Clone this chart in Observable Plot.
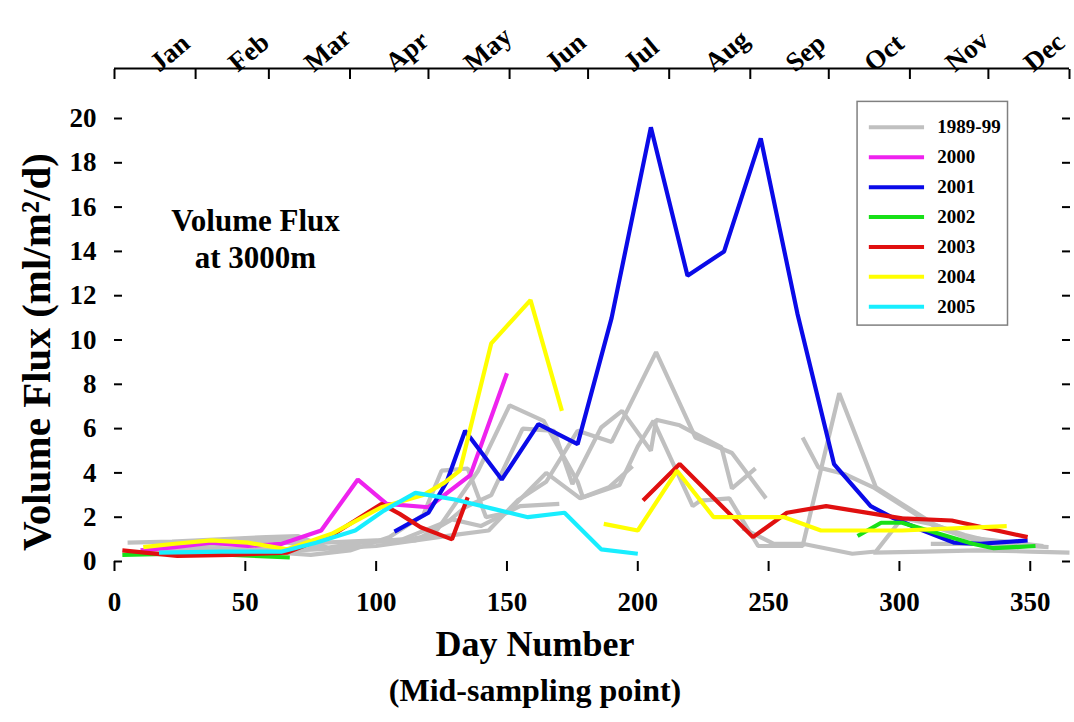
<!DOCTYPE html>
<html><head><meta charset="utf-8">
<script src="https://cdn.jsdelivr.net/npm/d3@7"></script>
<script src="https://cdn.jsdelivr.net/npm/@observablehq/plot@0.6"></script>
<style>body{margin:0;background:#fff}</style>
</head><body><div id="chart"></div>
<script>
// ---- categories / legend ----
const seriesNames = ["1989-99","2000","2001","2002","2003","2004","2005"];
const seriesColors = ["#c0c0c0","#ee22ee","#0a0ae8","#18e018","#e01010","#ffff00","#18eeff"];

// ---- month axis ----
const monthNames = ["Jan","Feb","Mar","Apr","May","Jun","Jul","Aug","Sep","Oct","Nov","Dec"];
const monthStarts = [0,31,59,90,120,151,181,212,243,273,304,334,365];
const monthMids = [15,45,74,105,135,166,196,227,258,288,319,349];

// ---- value axes ----
const xTicks = [0,50,100,150,200,250,300,350];
const yTicks = [0,2,4,6,8,10,12,14,16,18,20];

// ---- 1989-99 (grey) series: [day, flux] ----
const greyA = [[5,0.85],[22,0.9],[40,1.0],[58,1.1],[70,1.15],[85,0.45],[95,0.9],[108,0.9],[122,1.2],[139,4.1],[151,7.05],[164,6.35],[177,3.6],[179,2.9],[189,3.35],[198,4.3]];
const greyB = [[12,0.6],[35,0.75],[60,0.95],[80,0.6],[94,0.85],[110,1.0],[128,1.85],[134,2.45],[144,3.0],[156,6.0],[168,5.9],[175,3.5],[186,6.05],[194,6.8],[205,5.0],[207,6.4],[216,6.15],[232,5.15],[236,3.3],[245,4.2]];
const greyC = [[10,0.5],[40,0.6],[70,0.5],[100,0.7],[130,1.2],[143,1.4],[154,2.75],[165,3.6],[177,5.9],[190,5.4],[207,9.45],[222,5.6],[236,4.9],[249,2.85]];
const greyD = [[20,0.45],[50,0.5],[75,0.3],[90,0.5],[105,1.1],[118,2.1],[125,4.1],[135,4.2],[142,2.0],[150,2.2],[165,4.0],[178,2.85],[193,3.45],[200,5.2],[206,6.35],[221,2.5],[224,2.75],[235,2.85],[246,0.7],[263,0.7],[277,7.6],[291,3.35],[301,2.6],[313,1.7],[325,1.1],[340,0.9],[355,0.7]];
const greyE = [[263,5.6],[269,4.25],[279,3.95],[290,3.35],[304,2.3],[314,1.55],[328,1.0],[345,0.85]];
const greyF = [[240,1.5],[252,0.8],[263,0.8],[282,0.35],[291,0.45],[301,1.95],[312,1.7],[325,1.2],[340,0.75]];
const greyG = [[290,0.4],[310,0.45],[330,0.5],[350,0.45],[365,0.4]];
const greyH = [[312,0.8],[335,0.8],[357,0.65]];
const greyI = [[30,0.9],[55,1.05],[80,0.85],[100,0.95],[115,0.95],[129,1.9],[140,1.6],[155,2.5],[170,2.6]];

// ---- individual years ----
const y2000 = [[10,0.5],[23,0.65],[37,0.85],[51,0.7],[64,0.8],[79,1.4],[93,3.7],[104,2.6],[120,2.45],[136,3.9],[150,8.5]];
const y2001 = [[107,1.35],[120,2.2],[127,3.6],[134,5.9],[148,3.7],[162,6.2],[177,5.3],[190,11.0],[205,19.6],[219,12.9],[233,14.0],[247,19.1],[261,11.2],[275,4.4],[289,2.5],[297,2.0],[309,1.4],[321,0.85],[331,0.8],[349,0.95]];
const y2002a = [[3,0.3],[24,0.35],[45,0.3],[67,0.18]];
const y2002b = [[284,1.15],[293,1.75],[301,1.75],[311,1.4],[328,0.8],[336,0.6],[352,0.7]];
const y2003a = [[3,0.5],[24,0.25],[45,0.3],[66,0.4],[84,1.25],[92,1.85],[102,2.6],[109,2.15],[117,1.55],[129,1.0],[135,2.9]];
const y2003b = [[202,2.75],[216,4.4],[244,1.1],[257,2.2],[272,2.5],[301,1.95],[320,1.85],[349,1.1]];
const y2004a = [[11,0.65],[23,0.8],[37,0.95],[51,0.85],[66,0.55],[83,1.25],[102,2.45],[118,3.0],[126,3.55],[132,4.1],[144,9.85],[159,11.8],[171,6.8]];
const y2004b = [[187,1.7],[200,1.4],[215,4.1],[229,2.0],[256,2.0],[270,1.4],[301,1.4],[341,1.6]];
const y2005 = [[17,0.4],[41,0.45],[64,0.45],[77,0.85],[92,1.4],[103,2.3],[115,3.1],[130,2.8],[144,2.4],[158,2.0],[172,2.2],[186,0.55],[200,0.35]];

const segments = [
  ["1989-99","gA",greyA],["1989-99","gB",greyB],["1989-99","gC",greyC],["1989-99","gD",greyD],
  ["1989-99","gE",greyE],["1989-99","gF",greyF],["1989-99","gG",greyG],["1989-99","gH",greyH],["1989-99","gI",greyI],
  ["2000","2000",y2000],["2001","2001",y2001],["2002","2002a",y2002a],["2002","2002b",y2002b],
  ["2003","2003a",y2003a],["2003","2003b",y2003b],["2004","2004a",y2004a],["2004","2004b",y2004b],
  ["2005","2005",y2005]
];
const table = segments.flatMap(([series, id, pts]) => pts.map(([day, flux]) => ({series, id, day, flux})));

// legend layout in data units
const legendRows = seriesNames.map((name, i) => ({name, y: 19.6 - i * 1.35}));
const monthLabel = new Map(monthMids.map((d, i) => [d, monthNames[i]]));
const blank = () => "";

const chart = Plot.plot({
  width: 1074,
  height: 722,
  marginLeft: 114,
  marginRight: 5,
  marginTop: 118,
  marginBottom: 161,
  style: {fontFamily: "'Liberation Serif', 'Times New Roman', serif", fontWeight: "bold", background: "#fff", color: "#000"},
  x: {domain: [0, 365]},
  y: {domain: [0, 20]},
  color: {domain: seriesNames, range: seriesColors},
  marks: [
    Plot.line(table, {x: "day", y: "flux", z: "id", stroke: "series", strokeWidth: 4.2, strokeLinejoin: "miter", strokeLinecap: "butt"}),
    // left axis: line + labels, then inward ticks
    Plot.axisY(yTicks, {anchor: "left", tickSize: 0, tickPadding: 18, strokeWidth: 2, line: true, label: null, fontSize: 27}),
    Plot.axisY(yTicks, {anchor: "left", tickSize: 8, dx: 8, tickFormat: blank, strokeWidth: 2, label: null}),
    // right axis: line + inward ticks
    Plot.axisY(yTicks, {anchor: "right", tickSize: 0, tickFormat: blank, strokeWidth: 2, line: true, label: null}),
    Plot.axisY(yTicks, {anchor: "right", tickSize: 8, dx: -8, tickFormat: blank, strokeWidth: 2, label: null}),
    // bottom axis
    Plot.axisX(xTicks, {anchor: "bottom", tickSize: 10, tickPadding: 20, strokeWidth: 2, line: true, label: null, fontSize: 27}),
    // top month axis, lifted above the frame
    Plot.ruleY([20], {dy: -50, strokeWidth: 2}),
    Plot.axisX(monthStarts, {anchor: "top", tickSize: 10, dy: -40, tickFormat: blank, strokeWidth: 2, label: null}),
    Plot.axisX(monthMids, {anchor: "top", tickSize: 0, tickPadding: 2, tickRotate: -40, tickFormat: d => monthLabel.get(d), label: null, fontSize: 27, dy: -50}),
    // titles
    Plot.text(["Volume Flux (ml/m²/d)"], {text: d => d, frameAnchor: "left", textAnchor: "middle", rotate: -90, dx: -78, dy: 12, fontSize: 41}),
    Plot.text(["Day Number"], {text: d => d, frameAnchor: "bottom", textAnchor: "middle", dx: -57, dy: 94, fontSize: 36}),
    Plot.text(["(Mid-sampling point)"], {text: d => d, frameAnchor: "bottom", textAnchor: "middle", dx: -57, dy: 139, fontSize: 32}),
    Plot.text(["Volume Flux\nat 3000m"], {text: d => d, frameAnchor: "top-left", textAnchor: "middle", dx: 141, dy: 86, fontSize: 31, lineHeight: 1.2}),
    // legend
    Plot.rect([0], {x1: 284, x2: 341.5, y1: 10.65, y2: 20.75, fill: "white", stroke: "#808080", strokeWidth: 1.5}),
    Plot.ruleY(legendRows, {y: "y", x1: 288.5, x2: 309.6, stroke: "name", strokeWidth: 4}),
    Plot.text(legendRows, {x: 314.5, y: "y", text: "name", textAnchor: "start", fontSize: 19})
  ]
});
document.getElementById("chart").append(chart);
</script>
</body></html>
